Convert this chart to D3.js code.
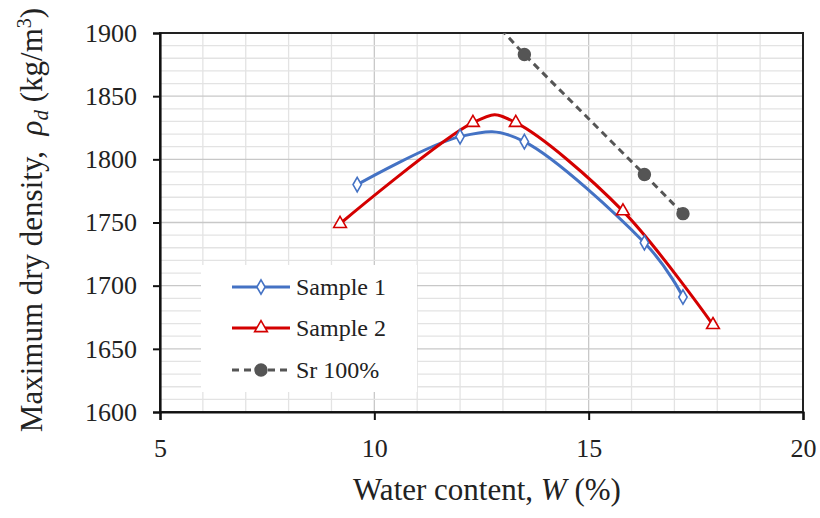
<!DOCTYPE html>
<html>
<head>
<meta charset="utf-8">
<script src="https://cdn.jsdelivr.net/npm/d3@7"></script>
<style>
  html, body { margin: 0; padding: 0; background: #fff; }
  svg { display: block; font-family: "Liberation Serif", "Times New Roman", serif; }
</style>
</head>
<body>
<div id="chart"></div>
<script>
// data
const sample1W = [9.6, 12.0, 13.5, 16.3, 17.2];
const sample1D = [1780, 1818, 1814, 1734, 1691];
const sample2W = [9.2, 12.3, 13.3, 15.8, 17.9];
const sample2D = [1749, 1829, 1829, 1759, 1669];
const srW = [12.0, 13.5, 16.3, 17.2];
const srD = [1938, 1883, 1788, 1757];
const xTicks = [5, 10, 15, 20];
const yTicks = [1600, 1650, 1700, 1750, 1800, 1850, 1900];
const seriesNames = ["Sample 1", "Sample 2", "Sr 100%"];

const width = 820, height = 518;
const margin = { top: 33, right: 17, bottom: 106, left: 160 };

const svg = d3.select("#chart").append("svg")
  .attr("width", width)
  .attr("height", height);

const x = d3.scaleLinear().domain([5, 20]).range([margin.left, width - margin.right]);
const y = d3.scaleLinear().domain([1600, 1900]).range([height - margin.bottom, margin.top]);

// grid - minor and major
const grid = svg.append("g");
d3.range(5, 20.01, 1).forEach(v => {
  grid.append("line")
    .attr("x1", x(v)).attr("x2", x(v))
    .attr("y1", y(1600)).attr("y2", y(1900))
    .attr("stroke", v % 5 === 0 ? "#c8c8c8" : "#e3e3e3")
    .attr("stroke-width", 1.3);
});
d3.range(1600, 1900.1, 10).forEach(v => {
  grid.append("line")
    .attr("x1", x(5)).attr("x2", x(20))
    .attr("y1", y(v)).attr("y2", y(v))
    .attr("stroke", v % 50 === 0 ? "#c8c8c8" : "#e3e3e3")
    .attr("stroke-width", 1.3);
});

// plot border
svg.append("rect")
  .attr("x", x(5)).attr("y", y(1900))
  .attr("width", x(20) - x(5)).attr("height", y(1600) - y(1900))
  .attr("fill", "none")
  .attr("stroke", "#222")
  .attr("stroke-width", 2);

// axes
const xAxis = svg.append("g")
  .attr("transform", `translate(0,${y(1600)})`)
  .call(d3.axisBottom(x).tickValues(xTicks).tickSize(8).tickPadding(19).tickFormat(d3.format("d")));
const yAxis = svg.append("g")
  .attr("transform", `translate(${x(5)},0)`)
  .call(d3.axisLeft(y).tickValues(yTicks).tickSize(7).tickPadding(16).tickFormat(d3.format("d")));

[xAxis, yAxis].forEach(a => {
  a.select(".domain").attr("stroke", "#111").attr("stroke-width", 2.2);
  a.selectAll(".tick line").attr("stroke", "#111").attr("stroke-width", 2);
  a.selectAll(".tick text")
    .attr("fill", "#222")
    .style("font-family", "'Liberation Serif', serif")
    .style("font-size", "26px");
});

// clip for series
svg.append("clipPath").attr("id", "plotClip")
  .append("rect")
  .attr("x", x(5)).attr("y", y(1900))
  .attr("width", x(20) - x(5)).attr("height", y(1600) - y(1900));

const plot = svg.append("g").attr("clip-path", "url(#plotClip)");

const smooth = d3.line()
  .x(d => x(d[0]))
  .y(d => y(d[1]))
  .curve(d3.curveCatmullRom.alpha(0.2));
const straight = d3.line()
  .x(d => x(d[0]))
  .y(d => y(d[1]));

const s1 = sample1W.map((w, i) => [w, sample1D[i]]);
const s2 = sample2W.map((w, i) => [w, sample2D[i]]);
const sr = srW.map((w, i) => [w, srD[i]]);

const blue = "#4472c4", red = "#d40000", gray = "#555555";

plot.append("path").datum(sr)
  .attr("fill", "none").attr("stroke", gray)
  .attr("stroke-width", 3).attr("stroke-dasharray", "7,5")
  .attr("d", straight);

plot.append("path").datum(s1)
  .attr("fill", "none").attr("stroke", blue)
  .attr("stroke-width", 3).attr("d", smooth);

plot.append("path").datum(s2)
  .attr("fill", "none").attr("stroke", red)
  .attr("stroke-width", 3).attr("d", smooth);

const diamond = d3.symbol().type(d3.symbolDiamond).size(60);
const triangle = d3.symbol().type(d3.symbolTriangle).size(70);
const circle = d3.symbol().type(d3.symbolCircle).size(110);

function markers(g, data, sym, fill, stroke) {
  g.selectAll(null).data(data).enter().append("path")
    .attr("transform", d => `translate(${x(d[0])},${y(d[1])})`)
    .attr("d", sym)
    .attr("fill", fill)
    .attr("stroke", stroke)
    .attr("stroke-width", 1.6);
}
markers(plot, s1, diamond, "#fff", blue);
markers(plot, s2, triangle, "#fff", red);
markers(plot, sr, circle, gray, gray);

// legend
const legend = svg.append("g").attr("transform", "translate(201,265)");
legend.append("rect")
  .attr("width", 216).attr("height", 127)
  .attr("fill", "#fff");

const legendRows = [
  { name: seriesNames[0], color: blue, sym: diamond, fill: "#fff", dash: null, yy: 22 },
  { name: seriesNames[1], color: red, sym: triangle, fill: "#fff", dash: null, yy: 63 },
  { name: seriesNames[2], color: gray, sym: circle, fill: gray, dash: "7,5", yy: 105 }
];
legendRows.forEach(r => {
  legend.append("line")
    .attr("x1", 31).attr("x2", 89)
    .attr("y1", r.yy).attr("y2", r.yy)
    .attr("stroke", r.color).attr("stroke-width", 3)
    .attr("stroke-dasharray", r.dash);
  legend.append("path")
    .attr("transform", `translate(60,${r.yy})`)
    .attr("d", r.sym)
    .attr("fill", r.fill).attr("stroke", r.color).attr("stroke-width", 1.6);
  legend.append("text")
    .attr("x", 95).attr("y", r.yy + 8)
    .attr("fill", "#222")
    .style("font-size", "24px")
    .text(r.name);
});

// x axis title
const xt = svg.append("text")
  .attr("x", 487).attr("y", 500)
  .attr("text-anchor", "middle")
  .attr("fill", "#222")
  .style("font-size", "31px");
xt.append("tspan").text("Water content, ");
xt.append("tspan").style("font-style", "italic").text("W");
xt.append("tspan").text(" (%)");

// y axis title
const yt = svg.append("text")
  .attr("transform", "translate(42,220) rotate(-90)")
  .attr("text-anchor", "middle")
  .attr("fill", "#222")
  .style("font-size", "31px");
yt.append("tspan").text("Maximum dry density,\u00a0\u00a0");
yt.append("tspan").style("font-style", "italic").text("ρ");
yt.append("tspan").style("font-style", "italic").style("font-size", "21px").attr("dy", 6).text("d");
yt.append("tspan").attr("dy", -6).text(" (kg/m");
yt.append("tspan").style("font-size", "20px").attr("dy", -11).text("3");
yt.append("tspan").attr("dy", 11).text(")");
</script>
</body>
</html>
